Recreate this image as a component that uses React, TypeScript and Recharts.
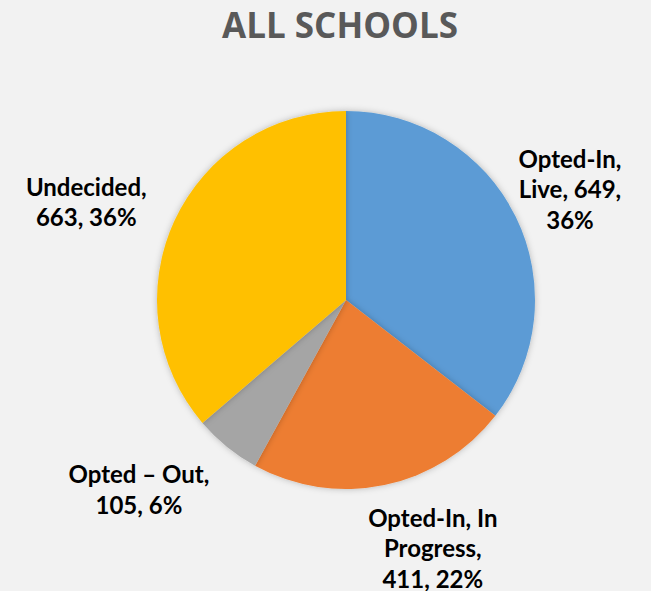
import React from 'react';
import { PieChart, Pie, Cell } from 'recharts';

const CATEGORIES = ['Opted-In, Live', 'Opted-In, In Progress', 'Opted – Out', 'Undecided'];
const VALUES = [649, 411, 105, 663];
const COLORS = ['#5B9BD5', '#ED7D31', '#A5A5A5', '#FFC000'];

// max characters per line for each label (Excel wraps them)
const LABEL_WRAP = [10, 12, 12, 12];
// small nudges from the radial label spot, like Excel's best-fit placement
const LABEL_NUDGE: [number, number][] = [[-14, 5], [33, -12], [-40, -17], [-19, 12]];

const RADIAN = Math.PI / 180;
const total = VALUES.reduce((a, b) => a + b, 0);

const data = CATEGORIES.map((name, i) => ({ name, value: VALUES[i] }));

const wrap = (text: string, max: number) => {
  const words = text.split(' ');
  const lines: string[] = [];
  let cur = '';
  words.forEach((w) => {
    const next = cur ? `${cur} ${w}` : w;
    if (next.length > max && cur) {
      lines.push(cur);
      cur = w;
    } else {
      cur = next;
    }
  });
  if (cur) lines.push(cur);
  return lines;
};

const renderLabel = (props: any) => {
  const { cx, cy, midAngle, outerRadius, index } = props;
  const r = outerRadius + 76;
  const x = cx + r * Math.cos(-midAngle * RADIAN) + LABEL_NUDGE[index][0];
  const y = cy + r * Math.sin(-midAngle * RADIAN) + LABEL_NUDGE[index][1];
  const pct = Math.round((VALUES[index] / total) * 100);
  const lines = wrap(`${CATEGORIES[index]}, ${VALUES[index]}, ${pct}%`, LABEL_WRAP[index]);
  const lh = 30.5;
  const y0 = y - ((lines.length - 1) * lh) / 2;
  return (
    <text
      x={x}
      y={y0}
      textAnchor="middle"
      dominantBaseline="central"
      fill="#000000"
      fontFamily="Lato, 'Open Sans', sans-serif"
      fontWeight="bold"
      fontSize={24}
    >
      {lines.map((l, k) => (
        <tspan key={k} x={x} y={y0 + k * lh} dominantBaseline="central">
          {l}
        </tspan>
      ))}
    </text>
  );
};

export default function App() {
  return (
    <div style={{ position: 'absolute', left: 0, top: 0, width: 651, height: 591, background: '#F2F2F2' }}>
      <div
        style={{
          position: 'absolute',
          left: 0,
          top: 1,
          width: 680,
          textAlign: 'center',
          fontFamily: "'Open Sans', sans-serif",
          fontWeight: 'bold',
          fontSize: 35,
          color: '#595959',
        }}
      >
        ALL SCHOOLS
      </div>
      <PieChart
        width={651}
        height={591}
        margin={{ top: 0, right: 0, bottom: 0, left: 0 }}
        style={{ position: 'absolute', left: 0, top: 0 }}
      >
        <defs>
          <filter id="pieShadow" x="-20%" y="-20%" width="140%" height="140%">
            <feDropShadow dx="0" dy="0" stdDeviation="3" floodColor="#000" floodOpacity="0.25" />
          </filter>
        </defs>
        <Pie
          data={data}
          dataKey="value"
          nameKey="name"
          cx={346}
          cy={300}
          outerRadius={189}
          startAngle={90}
          endAngle={-270}
          stroke="none"
          label={renderLabel}
          labelLine={false}
          isAnimationActive={false}
          style={{ filter: 'url(#pieShadow)' }}
        >
          {data.map((_, i) => (
            <Cell key={i} fill={COLORS[i]} />
          ))}
        </Pie>
      </PieChart>
    </div>
  );
}
